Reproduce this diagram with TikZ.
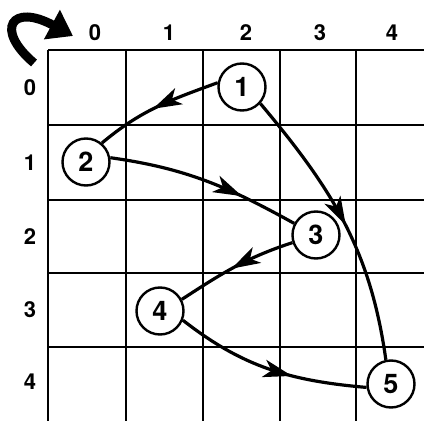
\documentclass[tikz,border=0pt]{standalone}
\usepackage{fontspec}
\setsansfont{TeX Gyre Heros}
\usetikzlibrary{arrows.meta,decorations.markings}

\begin{document}
\begin{tikzpicture}[x=1pt,y=1pt,
    gridline/.style={line width=1.6pt},
    axislabel/.style={font=\sffamily\bfseries\fontsize{22}{22}\selectfont},
    visit/.style={draw,circle,fill=white,line width=2.4pt,minimum size=47pt,inner sep=0pt,
      font=\sffamily\bfseries\fontsize{27}{27}\selectfont},
    hop/.style={line width=3.2pt,postaction={decorate},
      decoration={markings,mark=at position #1 with
        {\fill (4pt,0pt) -- (-25pt,9pt) -- (-17pt,0pt) -- (-25pt,-9pt) -- cycle;}}},
    hop/.default=0.5]
  \useasboundingbox (0,0) rectangle (424,421);
  % grid
  \foreach \x in {48,126,203,280,356}
    \draw[gridline] (\x,371) -- (\x,0);
  \foreach \y in {371,296,221,148,74}
    \draw[gridline] (48,\y) -- (424,\y);
  % column and row numbers
  \foreach \i/\x in {0/95,1/169,2/246,3/320,4/392}
    \node[axislabel] (col\i) at (\x,388) {\i};
  \foreach \i/\y in {0/333,1/258,2/184,3/111,4/39}
    \node[axislabel] (row\i) at (30,\y) {\i};
  % turn arrow in the corner
  \coordinate (turnstart) at (34,358);
  \coordinate (turnend) at (73,385);
  \draw[line width=9pt,-{Triangle[length=24pt,width=32pt]}]
    (turnstart) .. controls (-6,392) and (12,418) .. (turnend);
  % visited cells
  \node[visit] (n1) at (242,334) {1};
  \node[visit] (n2) at (86,259) {2};
  \node[visit] (n3) at (316,186) {3};
  \node[visit] (n4) at (160,110) {4};
  \node[visit] (n5) at (391,37) {5};
  \draw[hop=0.5] (n1.170) to[out=200,in=40] (n2.50);
  \draw[hop=0.68] (n2.10) to[out=-8,in=151] (n3.152);
  \draw[hop=0.5] (n1.-42) to[out=-50,in=98] (n5.102);
  \draw[hop=0.5] (n3.198) to[out=198,in=33] (n4.28);
  \draw[hop=0.6] (n4.-22) to[out=-38,in=175] (n5.188);
\end{tikzpicture}
\end{document}
